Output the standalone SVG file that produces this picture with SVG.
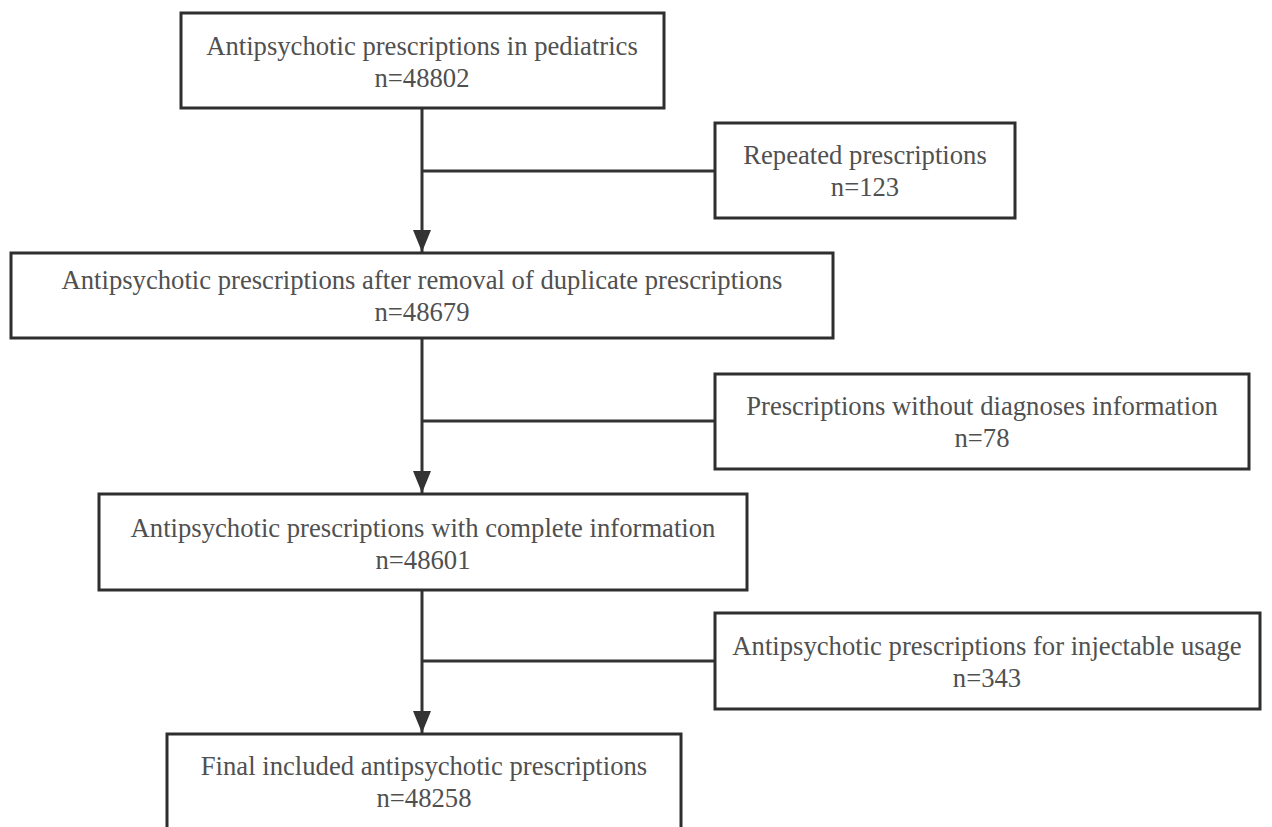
<svg xmlns="http://www.w3.org/2000/svg" width="1272" height="827" viewBox="0 0 1272 827">
<style>
.box{fill:#fff;stroke:#2e2e2e;stroke-width:3}
.t{font-family:"Liberation Serif","Times New Roman",serif;font-size:26.67px;fill:#505050;text-anchor:middle}
.ln{stroke:#333;stroke-width:3;fill:none}
</style>
<defs>
<marker id="ah" markerUnits="userSpaceOnUse" markerWidth="22" markerHeight="18" refX="22" refY="9" orient="auto" viewBox="0 0 22 18">
<path d="M0,0 L22,9 L0,18 Z" fill="#333"/>
</marker>
</defs>
<rect width="1272" height="827" fill="#fff"/>
<g id="connectors">
<line class="ln" x1="422" y1="108" x2="422" y2="252" marker-end="url(#ah)"/>
<line class="ln" x1="422" y1="171" x2="714" y2="171"/>
<line class="ln" x1="422" y1="338" x2="422" y2="493" marker-end="url(#ah)"/>
<line class="ln" x1="422" y1="421" x2="714" y2="421"/>
<line class="ln" x1="422" y1="590" x2="422" y2="733" marker-end="url(#ah)"/>
<line class="ln" x1="422" y1="661" x2="714" y2="661"/>
</g>
<g id="n1">
<rect class="box" x="181" y="13" width="483" height="95"/>
<text class="t" x="422" y="55">Antipsychotic prescriptions in pediatrics</text>
<text class="t" x="422" y="87">n=48802</text>
</g>
<g id="n2">
<rect class="box" x="715" y="123" width="300" height="95"/>
<text class="t" x="865" y="164">Repeated prescriptions</text>
<text class="t" x="865" y="196">n=123</text>
</g>
<g id="n3">
<rect class="box" x="11" y="253" width="822" height="85"/>
<text class="t" x="422" y="289">Antipsychotic prescriptions after removal of duplicate prescriptions</text>
<text class="t" x="422" y="321">n=48679</text>
</g>
<g id="n4">
<rect class="box" x="715" y="374" width="534" height="95"/>
<text class="t" x="982" y="415">Prescriptions without diagnoses information</text>
<text class="t" x="982" y="447">n=78</text>
</g>
<g id="n5">
<rect class="box" x="99" y="494" width="648" height="96"/>
<text class="t" x="423" y="537">Antipsychotic prescriptions with complete information</text>
<text class="t" x="423" y="569">n=48601</text>
</g>
<g id="n6">
<rect class="box" x="715" y="613" width="545" height="96"/>
<text class="t" x="987" y="655">Antipsychotic prescriptions for injectable usage</text>
<text class="t" x="987" y="687">n=343</text>
</g>
<g id="n7">
<rect class="box" x="167" y="734" width="514" height="100"/>
<text class="t" x="424" y="775">Final included antipsychotic prescriptions</text>
<text class="t" x="424" y="807">n=48258</text>
</g>
</svg>
